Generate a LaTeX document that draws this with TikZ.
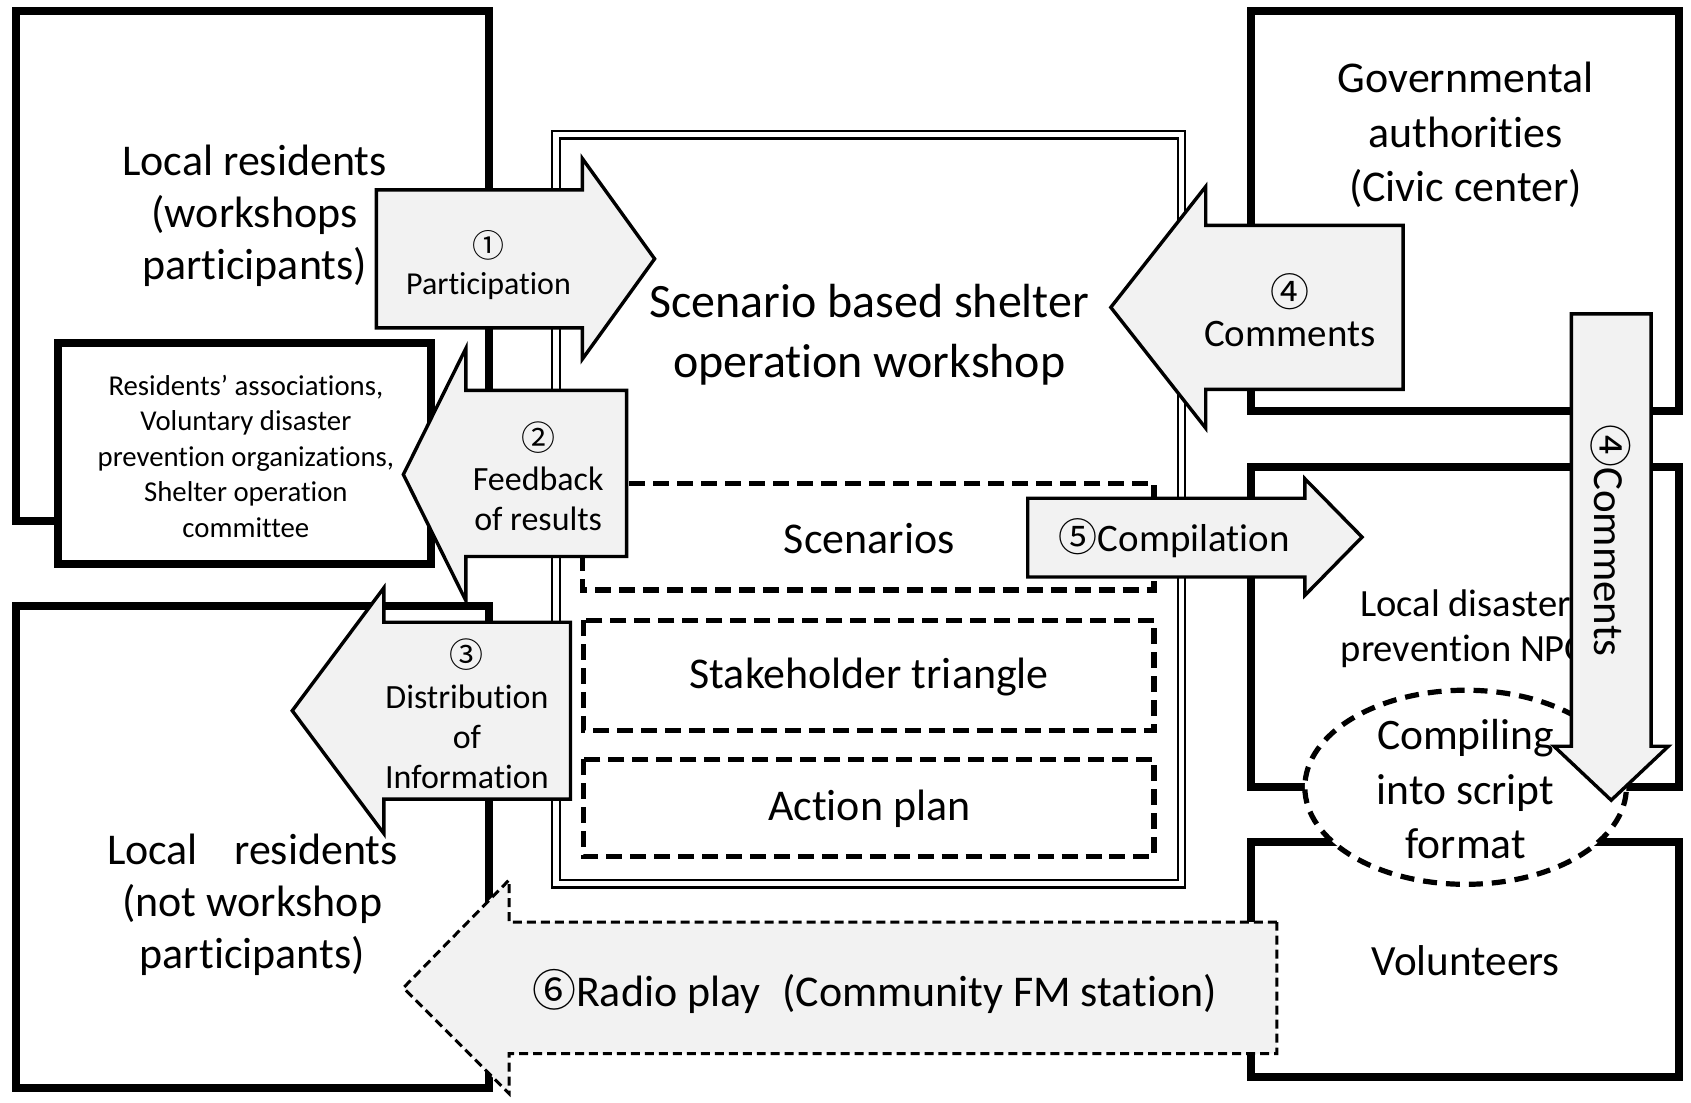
\documentclass[tikz,border=0pt]{standalone}
\usepackage{fontspec}
\setmainfont[Ligatures={NoCommon,NoContextual}]{Carlito}
\newfontfamily\circfont{Noto Sans CJK JP}
\usetikzlibrary{shapes.geometric}
\definecolor{arrowgrey}{RGB}{242,242,242}
\newcommand{\fsz}[2]{\fontsize{#1}{#2}\selectfont}
\newcommand{\cnum}[1]{{\circfont #1}}
\tikzset{
	box/.style={draw, line width=4pt, fill=white},
	wsbox/.style={draw, double, line width=1.1pt, double distance=2.6pt},
	partbox/.style={draw, line width=2.6pt, dash pattern=on 8pt off 4pt},
	barrow/.style={draw, line width=1.7pt, fill=arrowgrey, line join=miter},
	radioarrow/.style={barrow, line width=1.5pt, dash pattern=on 4.5pt off 2.5pt},
	txt/.style={align=center, inner sep=0pt},
}
\begin{document}
\begin{tikzpicture}[x=0.54pt, y=-0.54pt]
		\useasboundingbox (0,0) rectangle (1568,1022);
		
		% stakeholder boxes
		\draw[box] (15,10) rectangle (453,483);
		\draw[box] (15,562) rectangle (453,1009);
		\draw[box] (1160,10) rectangle (1557,381);
		\draw[box] (1160,433) rectangle (1557,730);
		\draw[box] (1160,781) rectangle (1557,999);
		\draw[box] (54,318) rectangle (400,523);
		
		% workshop
		\draw[wsbox] (515.5,125) rectangle (1095.5,819.5);
		\draw[partbox] (540,448) rectangle (1070,547);
		\draw[partbox] (541,575) rectangle (1070,677);
		\draw[partbox] (541,704) rectangle (1070,794);
		\draw[draw, fill=white, line width=2.6pt, dash pattern=on 7pt off 4.5pt]
		(1359,730) ellipse [x radius=80.5pt, y radius=48.6pt];
		
		\node [txt, font=\fsz{24pt}{30pt}] (ws) at (806,310) {Scenario based shelter\\operation workshop};
		\node [txt, font=\fsz{22pt}{26pt}] (scen) at (806,499) {Scenarios};
		\node [txt, font=\fsz{22pt}{26pt}] (tri) at (806,628) {Stakeholder triangle};
		\node [txt, font=\fsz{22pt}{26pt}] (plan) at (806,750) {Action plan};
		
		\node [txt, font=\fsz{22pt}{26pt}] (resws) at (236,200) {Local residents\\(workshops\\participants)};
		\node [txt, font=\fsz{14.4pt}{17.8pt}] (assoc) at (228,423) {Residents’ associations,\\Voluntary disaster\\prevention organizations,\\Shelter operation\\committee};
		\node [txt, font=\fsz{22pt}{26pt}] (resnot) at (234,839) {Local\hspace{0.6em} residents\\(not workshop\\participants)};
		\node [txt, font=\fsz{22pt}{27.5pt}] (gov) at (1359,125) {Governmental\\authorities\\(Civic center)};
		\node [txt, font=\fsz{19.3pt}{23pt}] (npo) at (1359,583) {Local disaster\\prevention NPO};
		\node [txt, font=\fsz{21.8pt}{27.3pt}] (comp) at (1359,732) {Compiling\\into script\\format};
		\node [txt, font=\fsz{21.6pt}{26pt}] (vol) at (1359,891) {Volunteers};
		
		% flows
		\draw[barrow] (349,176) -- (540,176) -- (540,147) -- (607,240) -- (540,333) -- (540,304) -- (349,304) -- cycle;
		\node [txt, font=\fsz{16pt}{18.4pt}] (part) at (453,246) {\cnum{①}\\Participation};
		
		\draw[barrow] (581,362) -- (432,362) -- (432,323) -- (374,440) -- (432,557) -- (432,516) -- (581,516) -- cycle;
		\node [txt, font=\fsz{17pt}{20pt}] (feed) at (499,442) {\cnum{②}\\Feedback\\of results};
		
		\draw[barrow] (529,577) -- (356,577) -- (356,545) -- (271,659) -- (356,773) -- (356,741) -- (529,741) -- cycle;
		\node [txt, font=\fsz{17pt}{20.2pt}] (dist) at (433,662) {\cnum{③}\\Distribution\\of\\Information};
		
		\draw[barrow] (1301,209) -- (1118,209) -- (1118,173) -- (1030,285) -- (1118,397) -- (1118,361) -- (1301,361) -- cycle;
		\node [txt, font=\fsz{19.5pt}{20pt}] (cmt) at (1196,288) {\cnum{④}\\Comments};
		
		\draw[barrow] (953,462) -- (1210,462) -- (1210,444) -- (1263,498) -- (1210,552) -- (1210,535) -- (953,535) -- cycle;
		\node [txt, font=\fsz{19.5pt}{22pt}] (compil) at (1089,499) {\cnum{⑤}Compilation};
		
		\draw[barrow] (1457,291) -- (1531,291) -- (1531,692) -- (1547,692) -- (1494,742) -- (1441,692) -- (1457,692) -- cycle;
		\node [txt, rotate=-90, font=\fsz{21.5pt}{22pt}] (cmtnpo) at (1494,501) {\cnum{④}Comments};
		
		\draw[radioarrow] (1184,855) -- (472,855) -- (472,816) -- (374,916) -- (472,1014) -- (472,977) -- (1184,977) -- cycle;
		\node [txt, font=\fsz{22pt}{26pt}] (radio) at (811,919) {\cnum{⑥}Radio play\enspace(Community FM station)};
		
\end{tikzpicture}
\end{document}
